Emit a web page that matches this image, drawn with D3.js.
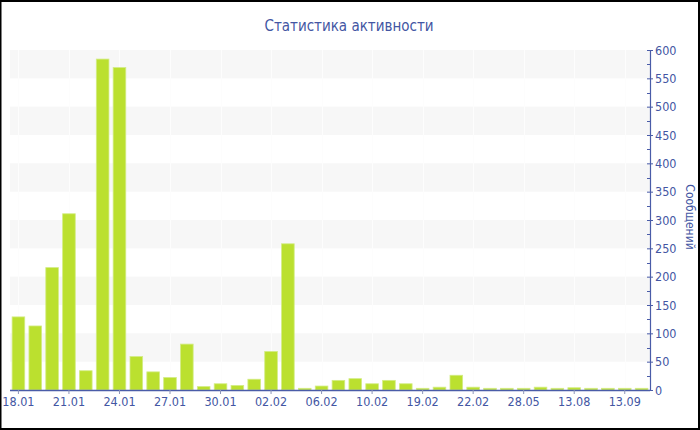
<!DOCTYPE html>
<html>
<head>
<meta charset="utf-8">
<script src="https://cdn.jsdelivr.net/npm/d3@7"></script>
<style>
  html, body { margin: 0; padding: 0; background: #fff; }
  svg { display: block; font-family: "DejaVu Sans Condensed", "DejaVu Sans", sans-serif; font-stretch: condensed; }
</style>
</head>
<body>
<svg id="chart" width="700" height="430"></svg>
<script>
// Daily message counts
const categories = ["18.01","19.01","20.01","21.01","22.01","23.01","24.01","25.01","26.01","27.01",
  "28.01","29.01","30.01","31.01","01.02","02.02","03.02","05.02","06.02","07.02",
  "08.02","10.02","12.02","15.02","19.02","20.02","21.02","22.02","25.02","14.04",
  "28.05","11.06","20.07","13.08","22.08","04.09","13.09","20.09"];
const messages = [129, 113, 216, 311, 34, 584, 569, 59, 32, 22,
  81, 6, 11, 8, 19, 68, 258, 3, 7, 17,
  20, 11, 17, 11, 3, 5, 26, 5, 3, 3,
  3, 5, 3, 4, 3, 3, 3, 3];
const tickLabels = ["18.01","21.01","24.01","27.01","30.01","02.02","06.02","10.02","19.02","22.02","28.05","13.08","13.09"];
const yTicks = [0, 50, 100, 150, 200, 250, 300, 350, 400, 450, 500, 550, 600];

const W = 700, H = 430;
const plotLeft = 10, plotRight = 650, plotTop = 50, plotBottom = 390;
const textColor = "#4356a3";
const axisColor = "#4a5ca8";
const fontFamily = "'DejaVu Sans Condensed', 'DejaVu Sans', sans-serif";

const svg = d3.select("#chart");

const x = d3.scaleBand().domain(categories).range([plotLeft, plotRight])
  .paddingInner(0.25).paddingOuter(0.125);
const y = d3.scaleLinear().domain([0, 600]).range([plotBottom, plotTop]);

// Alternating horizontal bands
const bandStarts = d3.range(50, 600, 100);
svg.append("g").selectAll("rect").data(bandStarts).join("rect")
  .attr("x", plotLeft).attr("width", plotRight - plotLeft)
  .attr("y", d => y(d + 50)).attr("height", d => y(d) - y(d + 50))
  .attr("fill", "#f7f7f7");

// Faint vertical grid at labelled dates
svg.append("g").selectAll("line").data(tickLabels).join("line")
  .attr("x1", d => Math.round(x(d) + x.bandwidth() / 2) + 0.5)
  .attr("x2", d => Math.round(x(d) + x.bandwidth() / 2) + 0.5)
  .attr("y1", plotTop).attr("y2", plotBottom)
  .attr("stroke", "#fdfdfd").attr("stroke-width", 1);

// Bars
svg.append("g").selectAll("rect").data(messages).join("rect")
  .attr("x", (d, i) => x(categories[i]))
  .attr("width", x.bandwidth())
  .attr("y", d => y(d))
  .attr("height", d => y(0) - y(d))
  .attr("fill", "#bbe02f")
  .attr("stroke", "#d3ec85")
  .attr("stroke-width", 0.8);

// X axis
const xAxis = d3.axisBottom(x).tickValues(tickLabels).tickSize(4).tickSizeOuter(0).tickPadding(3);
const gx = svg.append("g").attr("transform", `translate(0,${plotBottom})`).call(xAxis);
gx.select(".domain").attr("stroke", axisColor).attr("stroke-width", 1.5)
  .attr("d", `M${plotLeft},0.5H${plotRight}`);
gx.selectAll(".tick line").attr("stroke", "#8d95b8");
gx.selectAll(".tick text").attr("fill", textColor).attr("font-size", 12.5)
  .attr("font-family", fontFamily);

// Y axis on the right
const yAxis = d3.axisRight(y).tickValues(yTicks).tickSize(3).tickSizeOuter(0).tickPadding(2);
const gy = svg.append("g").attr("transform", `translate(${plotRight},0)`).call(yAxis);
gy.select(".domain").attr("stroke", axisColor).attr("stroke-width", 1.2);
gy.selectAll(".tick line").attr("stroke", axisColor).attr("x1", -3);
gy.selectAll(".tick text").attr("fill", textColor).attr("font-size", 12.5)
  .attr("font-family", fontFamily);

// Minor ticks every 25
const minor = d3.range(25, 600, 50);
gy.append("g").selectAll("line").data(minor).join("line")
  .attr("x1", -3).attr("x2", 0)
  .attr("y1", d => Math.round(y(d)) + 0.5).attr("y2", d => Math.round(y(d)) + 0.5)
  .attr("stroke", axisColor);

// Axis title
svg.append("text")
  .attr("transform", `translate(686,217) rotate(90)`)
  .attr("text-anchor", "middle")
  .attr("fill", textColor).attr("font-size", 12)
  .attr("font-family", fontFamily)
  .text("Сообщений");

// Chart title
svg.append("text")
  .attr("x", 349).attr("y", 31)
  .attr("text-anchor", "middle")
  .attr("fill", textColor).attr("font-size", 15)
  .attr("font-family", fontFamily)
  .text("Статистика активности");

// Frame
svg.append("path")
  .attr("d", `M0.5,0V${H}M0,1H${W}M${W - 1},0V${H}M0,${H - 1}H${W}`)
  .attr("fill", "none").attr("stroke", "#000").attr("stroke-width", 2);
</script>
</body>
</html>
